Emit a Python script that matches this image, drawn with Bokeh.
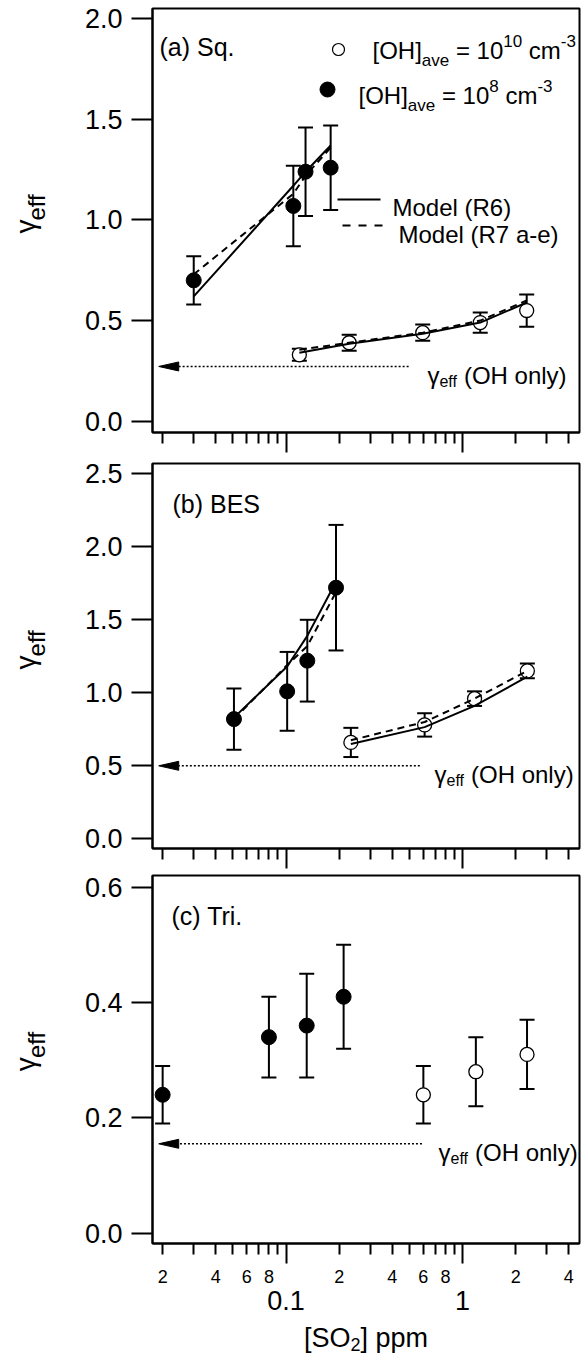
import math
from bokeh.plotting import figure
from bokeh.layouts import column, row
from bokeh.models import (Range1d, FixedTicker, Whisker, TeeHead, Label, ColumnDataSource,
                          PrintfTickFormatter, CustomJSTickFormatter)
from bokeh.core.properties import value
from bokeh.embed import file_html
from bokeh.resources import INLINE

# ---------------- data ----------------
# (a) Sq.
a_hi_so2 = [0.030, 0.110, 0.129, 0.179]          # [OH]ave = 1e8 cm-3 (filled)
a_hi_gamma = [0.70, 1.07, 1.24, 1.26]
a_hi_err = [0.12, 0.20, 0.22, 0.21]
a_hi_r6 = [0.62, 1.17, 1.24, 1.37]
a_hi_r7 = [0.73, 1.13, 1.22, 1.36]
a_lo_so2 = [0.119, 0.228, 0.595, 1.26, 2.31]     # [OH]ave = 1e10 cm-3 (open)
a_lo_gamma = [0.33, 0.39, 0.44, 0.49, 0.55]
a_lo_err = [0.03, 0.04, 0.04, 0.05, 0.08]
a_lo_r6 = [0.34, 0.385, 0.435, 0.49, 0.59]
a_lo_r7 = [0.355, 0.39, 0.44, 0.50, 0.60]
a_oh_only = 0.272

# (b) BES
b_hi_so2 = [0.0507, 0.1015, 0.132, 0.192]
b_hi_gamma = [0.82, 1.01, 1.22, 1.72]
b_hi_err = [0.21, 0.27, 0.28, 0.43]
b_hi_r6 = [0.83, 1.18, 1.39, 1.76]
b_hi_r7 = [0.82, 1.19, 1.32, 1.69]
b_lo_so2 = [0.233, 0.61, 1.17, 2.33]
b_lo_gamma = [0.66, 0.78, 0.96, 1.15]
b_lo_err = [0.10, 0.08, 0.05, 0.05]
b_lo_r6 = [0.65, 0.765, 0.91, 1.11]
b_lo_r7 = [0.675, 0.80, 0.96, 1.15]
b_oh_only = 0.50

# (c) Tri.
c_hi_so2 = [0.020, 0.080, 0.131, 0.212]
c_hi_gamma = [0.24, 0.34, 0.36, 0.41]
c_hi_err = [0.05, 0.07, 0.09, 0.09]
c_lo_so2 = [0.60, 1.19, 2.32]
c_lo_gamma = [0.24, 0.28, 0.31]
c_lo_err = [0.05, 0.06, 0.06]
c_oh_only = 0.155

# ticks
a_yticks = [0.0, 0.5, 1.0, 1.5, 2.0]
b_yticks = [0.0, 0.5, 1.0, 1.5, 2.0, 2.5]
c_yticks = [0.0, 0.2, 0.4, 0.6]
x_major = [0.1, 1.0]
x_major_text = ["0.1", "1"]
x_minor = [0.02, 0.03, 0.04, 0.05, 0.06, 0.07, 0.08, 0.09,
           0.2, 0.3, 0.4, 0.5, 0.6, 0.7, 0.8, 0.9, 2.0, 3.0, 4.0]
x_minor_lab_vals = [0.02, 0.04, 0.06, 0.08, 0.2, 0.4, 0.6, 0.8, 2.0, 4.0]
x_minor_lab_text = ["2", "4", "6", "8", "2", "4", "6", "8", "2", "4"]

# arrow / annotation anchors (x in ppm)
arrow_tip = 0.019
a_arrow_start, b_arrow_start, c_arrow_start = 0.495, 0.573, 0.589
a_txt_x, b_txt_x, c_txt_x = 0.633, 0.694, 0.731

# ---------------- layout ----------------
FONT = "Liberation Sans"
W = 582
LW = 80                      # strip holding the y-axis title
LEFT, RIGHT = 152, 3
FW = W - LEFT - RIGHT
X0, X1 = 0.01752, 4.60
LX0, LX1 = math.log10(X0), math.log10(X1)
INFO = {}

AW = {' ': 278, '[': 278, ']': 278, '(': 333, ')': 333, 'O': 778, 'H': 722, 'a': 556, 'v': 500,
      'e': 556, '=': 584, '0': 556, '1': 556, '2': 556, '3': 556, '6': 556, '7': 556, '8': 556,
      'c': 500, 'm': 833, '-': 333, 'M': 833, 'o': 556, 'd': 556, 'l': 222, 'R': 722, 'S': 667,
      'p': 556, 'f': 278, 'n': 556, 'y': 500, 'γ': 500, 'q': 556, '.': 278, 'b': 556, 'B': 667,
      'E': 667, 'T': 611, 'r': 333, 'i': 222}


def tw(s, size):
    return sum(AW.get(ch, 556) for ch in s) * size / 1000.0


def make_fig(height, top, bottom, fh, yr, yticks):
    p = figure(width=W - LW, height=height, x_axis_type="log",
               x_range=Range1d(X0, X1), y_range=Range1d(*yr),
               output_backend="svg", toolbar_location=None,
               min_border_left=LEFT - LW, min_border_right=RIGHT,
               min_border_top=top, min_border_bottom=bottom)
    p.grid.visible = False
    p.outline_line_color = "black"
    p.outline_line_width = 2
    p.outline_line_alpha = 1.0
    p.background_fill_color = "white"
    p.border_fill_color = "white"
    ya = p.yaxis[0]
    ya.ticker = FixedTicker(ticks=yticks, minor_ticks=[])
    ya.formatter = PrintfTickFormatter(format="%.1f")
    ya.major_tick_out = 21
    ya.major_tick_in = 0
    ya.minor_tick_out = 0
    ya.minor_tick_in = 0
    ya.major_tick_line_width = 2
    ya.major_tick_line_color = "black"
    ya.axis_line_width = 2
    ya.axis_line_color = "black"
    ya.major_label_text_font = FONT
    ya.major_label_text_font_size = "27px"
    ya.major_label_text_color = "black"
    ya.major_label_standoff = 9
    xa = p.xaxis[0]
    xa.ticker = FixedTicker(ticks=x_major, minor_ticks=x_minor)
    xa.major_tick_out = 20
    xa.major_tick_in = 0
    xa.minor_tick_out = 11
    xa.minor_tick_in = 0
    xa.major_tick_line_width = 2
    xa.minor_tick_line_width = 2
    xa.major_tick_line_color = "black"
    xa.minor_tick_line_color = "black"
    xa.axis_line_width = 2
    xa.axis_line_color = "black"
    xa.major_label_text_font = FONT
    xa.major_label_text_font_size = "1px"
    xa.major_label_standoff = 0
    xa.formatter = CustomJSTickFormatter(code="return '';")
    INFO[p.id] = (fh, yr)
    return p


def blank_fig(width, height, xr, yr, left=0, right=0, log=False):
    p = figure(width=width, height=height, x_range=xr, y_range=yr,
               x_axis_type="log" if log else "linear",
               output_backend="svg", toolbar_location=None,
               x_axis_location=None, y_axis_location=None,
               min_border_left=left, min_border_right=right, min_border_top=0, min_border_bottom=0)
    p.grid.visible = False
    p.outline_line_color = None
    p.background_fill_color = "white"
    p.border_fill_color = "white"
    return p


def x_from_px(px):
    return 10 ** (LX0 + px / FW * (LX1 - LX0))


def frame_h(p):
    return INFO[p.id][0]


def y0(p):
    return INFO[p.id][1][0]


def y_scale(p):
    fh, yr = INFO[p.id]
    return fh / (yr[1] - yr[0])


def sy(p, y_top):  # distance from frame top -> screen y from frame bottom
    return frame_h(p) - y_top


def seg_text(p, x, y, segs, x_units="screen", y_units="screen", x_off=0.0, y_off=0.0):
    off = x_off
    for t, s, dy in segs:
        lead = len(t) - len(t.lstrip(' '))
        core = t.strip(' ')
        off += tw(' ' * lead, s)
        p.add_layout(Label(x=x, y=y, x_units=x_units, y_units=y_units,
                           x_offset=off, y_offset=y_off + dy, text=core,
                           text_font=FONT, text_font_size=f"{s}px", text_color="black",
                           text_baseline="alphabetic", text_align="left"))
        off += tw(t[lead:], s)


def ylabel_fig(height, top, frame_top, fh):
    p = blank_fig(LW, height, Range1d(0, LW), Range1d(0, height))
    c_from_top = frame_top - top + fh / 2.0
    yb = height - (c_from_top + 21)
    p.text(x=[25], y=[yb], text=["γ"], angle=math.pi / 2, text_font=value(FONT),
           text_font_size="28px", text_color="black", text_align="left",
           text_baseline="alphabetic")
    p.text(x=[36], y=[yb + tw("γ", 28)], text=["eff"], angle=math.pi / 2, text_font=value(FONT),
           text_font_size="24px", text_color="black", text_align="left",
           text_baseline="alphabetic")
    return p


def errbars(p, xs, ys, es):
    src = ColumnDataSource(dict(x=xs, up=[y + e for y, e in zip(ys, es)],
                                lo=[y - e for y, e in zip(ys, es)]))
    p.add_layout(Whisker(base="x", upper="up", lower="lo", source=src, line_width=2,
                         line_color="black",
                         upper_head=TeeHead(size=15, line_width=2, line_color="black"),
                         lower_head=TeeHead(size=15, line_width=2, line_color="black")))


def points(p, xs, ys, filled):
    if filled:
        p.scatter(xs, ys, marker="circle", size=15, fill_color="black", line_color="black")
    else:
        p.scatter(xs, ys, marker="circle", size=14, fill_color="white", line_color="black",
                  line_width=1.3)


def oh_arrow(p, x_start, yv, txt_x):
    k = y_scale(p)
    base = 10 ** (math.log10(arrow_tip) + 20.0 / FW * (LX1 - LX0))
    p.line([x_start, base], [yv, yv], line_color="black", line_width=1.6, line_dash="2 2")
    p.patch([arrow_tip, base, base], [yv, yv + 4.5 / k, yv - 4.5 / k],
            fill_color="black", line_color="black", line_width=1)
    seg_text(p, txt_x, yv, [("γ", 24, 0), ("eff", 16, -6), (" (OH only)", 24, 0)],
             x_units="data", y_units="data", y_off=-9)


def panel(p, hx, hy, he, lx, ly, le, r6h=None, r7h=None, r6l=None, r7l=None):
    errbars(p, hx, hy, he)
    errbars(p, lx, ly, le)
    points(p, hx, hy, True)
    points(p, lx, ly, False)
    for xs, ys, dash in ((hx, r6h, "solid"), (hx, r7h, "7 5"), (lx, r6l, "solid"), (lx, r7l, "7 5")):
        if ys is not None:
            p.line(xs, ys, line_color="black", line_width=2, line_dash=dash)


# ---- panel (a): figure rows 0..454, frame 8..432
HA, TA = 454, 0
pa = make_fig(HA, 8, 22, 424, (-0.0562, 2.0512), a_yticks)
panel(pa, a_hi_so2, a_hi_gamma, a_hi_err, a_lo_so2, a_lo_gamma, a_lo_err,
      a_hi_r6, a_hi_r7, a_lo_r6, a_lo_r7)
oh_arrow(pa, a_arrow_start, a_oh_only, a_txt_x)
seg_text(pa, 159 - LEFT, sy(pa, 38), [("(a) Sq.", 25, 0)])
# legend
k = y_scale(pa)
ya0 = y0(pa)
pa.scatter([x_from_px(338 - LEFT)], [ya0 + sy(pa, 41) / k], marker="circle", size=12,
           fill_color="white", line_color="black", line_width=1.2)
pa.scatter([x_from_px(327 - LEFT)], [ya0 + sy(pa, 81) / k], marker="circle", size=15,
           fill_color="black", line_color="black")
seg_text(pa, 372 - LEFT, sy(pa, 42), [("[OH]", 24, 0), ("ave", 17, -10), (" = 10", 24, 0),
                                      ("10", 17, 10), (" cm", 24, 0), ("-3", 17, 10)])
seg_text(pa, 358 - LEFT, sy(pa, 87), [("[OH]", 24, 0), ("ave", 17, -10), (" = 10", 24, 0),
                                      ("8", 17, 10), (" cm", 24, 0), ("-3", 17, 10)])
pa.line([x_from_px(337 - LEFT), x_from_px(380 - LEFT)], [ya0 + sy(pa, 191) / k] * 2,
        line_color="black", line_width=2)
pa.line([x_from_px(342 - LEFT), x_from_px(389 - LEFT)], [ya0 + sy(pa, 217) / k] * 2,
        line_color="black", line_width=2, line_dash="8 8")
seg_text(pa, 392 - LEFT, sy(pa, 199), [("Model (R6)", 24, 0)])
seg_text(pa, 398 - LEFT, sy(pa, 226), [("Model (R7 a-e)", 24, 0)])
la = ylabel_fig(HA, TA, 8, 424)

# ---- panel (b): figure rows 454..870, frame 463..848
HB, TB = 416, 454
pb = make_fig(HB, 9, 22, 385, (-0.0664, 2.5705), b_yticks)
panel(pb, b_hi_so2, b_hi_gamma, b_hi_err, b_lo_so2, b_lo_gamma, b_lo_err,
      b_hi_r6, b_hi_r7, b_lo_r6, b_lo_r7)
oh_arrow(pb, b_arrow_start, b_oh_only, b_txt_x)
seg_text(pb, 172 - LEFT, sy(pb, 40), [("(b) BES", 25, 0)])
lb = ylabel_fig(HB, TB, 463, 385)

# ---- panel (c): figure rows 870..1265, frame 875..1243
HC, TC = 395, 870
pc = make_fig(HC, 5, 22, 368, (-0.0179, 0.6203), c_yticks)
panel(pc, c_hi_so2, c_hi_gamma, c_hi_err, c_lo_so2, c_lo_gamma, c_lo_err)
oh_arrow(pc, c_arrow_start, c_oh_only, c_txt_x)
seg_text(pc, 171 - LEFT, sy(pc, 40), [("(c) Tri.", 25, 0)])
lc = ylabel_fig(HC, TC, 875, 368)

# ---- x tick labels and x-axis title strip: rows 1265..1354
HD, TD = 89, 1265
pdd = blank_fig(W, HD, Range1d(X0, X1), Range1d(0, HD), left=LEFT, right=RIGHT, log=True)
pdd.text(x=x_minor_lab_vals, y=[HD - (1276 - TD)] * len(x_minor_lab_vals), text=x_minor_lab_text,
         text_font=value(FONT), text_font_size="18px", text_color="black",
         text_align="center", text_baseline="alphabetic")
pdd.text(x=x_major, y=[HD - (1300 - TD)] * len(x_major), text=x_major_text,
         text_font=value(FONT), text_font_size="27px", text_color="black",
         text_align="center", text_baseline="alphabetic")
xl = [("[SO", 27, 0), ("2", 18, -7), ("] ppm", 27, 0)]
xl_w = sum(tw(t, s) for t, s, _ in xl)
xc = x_from_px(FW / 2.0)
off = -xl_w / 2.0
yb = HD - (1337 - TD)
for t, s, dy in xl:
    lead = len(t) - len(t.lstrip(' '))
    off += tw(' ' * lead, s)
    pdd.text(x=[xc], y=[yb + dy], text=[t.strip(' ')], x_offset=off, text_font=value(FONT),
             text_font_size=f"{s}px", text_color="black", text_align="left",
             text_baseline="alphabetic")
    off += tw(t[lead:], s)

layout = column(row(la, pa, spacing=0), row(lb, pb, spacing=0), row(lc, pc, spacing=0), pdd,
                spacing=0)
open("out.html", "w").write(file_html(layout, INLINE))
